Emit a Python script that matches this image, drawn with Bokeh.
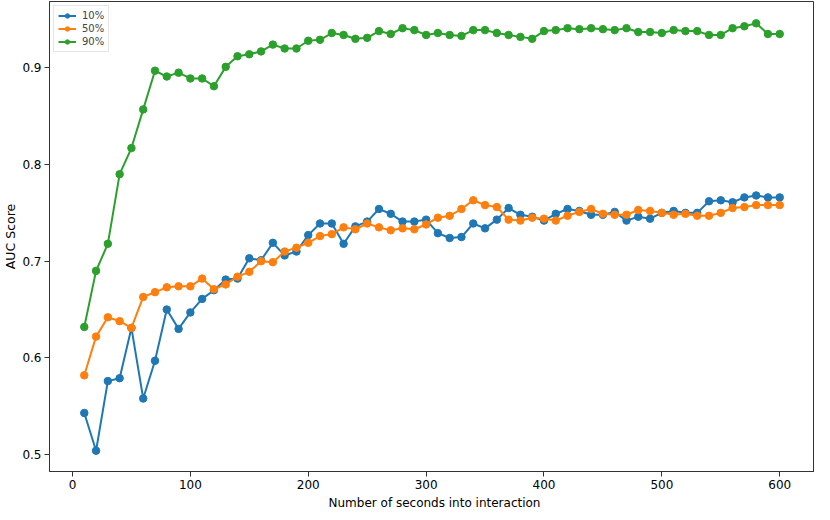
from bokeh.plotting import figure
from bokeh.models import Range1d, FixedTicker, Legend, LegendItem, Div
from bokeh.layouts import column
from bokeh.embed import file_html
from bokeh.resources import INLINE

seconds = [10, 20, 30, 40, 50, 60, 70, 80, 90, 100,
           110, 120, 130, 140, 150, 160, 170, 180, 190, 200,
           210, 220, 230, 240, 250, 260, 270, 280, 290, 300,
           310, 320, 330, 340, 350, 360, 370, 380, 390, 400,
           410, 420, 430, 440, 450, 460, 470, 480, 490, 500,
           510, 520, 530, 540, 550, 560, 570, 580, 590, 600]

auc_10 = [0.543, 0.504, 0.576, 0.579, 0.631, 0.558, 0.597, 0.650, 0.630, 0.647,
          0.661, 0.670, 0.681, 0.682, 0.703, 0.701, 0.719, 0.706, 0.710, 0.727,
          0.739, 0.739, 0.718, 0.736, 0.741, 0.754, 0.749, 0.741, 0.741, 0.743,
          0.729, 0.724, 0.725, 0.739, 0.734, 0.743, 0.755, 0.748, 0.746, 0.742,
          0.749, 0.754, 0.752, 0.748, 0.748, 0.751, 0.742, 0.746, 0.744, 0.750,
          0.752, 0.750, 0.750, 0.762, 0.763, 0.761, 0.766, 0.768, 0.766, 0.766]

auc_50 = [0.582, 0.622, 0.642, 0.638, 0.631, 0.663, 0.668, 0.673, 0.674, 0.674,
          0.682, 0.671, 0.676, 0.684, 0.689, 0.700, 0.699, 0.710, 0.714, 0.719,
          0.726, 0.728, 0.735, 0.733, 0.739, 0.735, 0.732, 0.734, 0.733, 0.738,
          0.745, 0.747, 0.754, 0.763, 0.758, 0.756, 0.743, 0.742, 0.745, 0.744,
          0.742, 0.747, 0.751, 0.754, 0.749, 0.748, 0.748, 0.753, 0.752, 0.750,
          0.748, 0.749, 0.747, 0.747, 0.750, 0.755, 0.756, 0.758, 0.758, 0.758]

auc_90 = [0.632, 0.690, 0.718, 0.790, 0.817, 0.857, 0.897, 0.891, 0.895, 0.889,
          0.889, 0.881, 0.901, 0.912, 0.914, 0.917, 0.924, 0.920, 0.920, 0.928,
          0.929, 0.936, 0.934, 0.930, 0.931, 0.938, 0.935, 0.941, 0.939, 0.934,
          0.936, 0.934, 0.933, 0.939, 0.939, 0.936, 0.934, 0.932, 0.930, 0.938,
          0.939, 0.941, 0.940, 0.941, 0.940, 0.939, 0.941, 0.937, 0.937, 0.936,
          0.939, 0.938, 0.938, 0.934, 0.934, 0.941, 0.943, 0.946, 0.935, 0.935]

series_names = ["10%", "50%", "90%"]
series_colors = ["#1f77b4", "#ff7f0e", "#2ca02c"]
x_ticks = [0, 100, 200, 300, 400, 500, 600]
y_ticks = [0.5, 0.6, 0.7, 0.8, 0.9]
x_title = "Number of seconds into interaction"
y_title = "AUC Score"

FONT = "DejaVu Sans"

p = figure(width=814, height=496, output_backend="svg", toolbar_location=None,
           x_range=Range1d(-19.5, 629.5), y_range=Range1d(0.4825, 0.9686))
p.min_border_left = 39
p.min_border_right = 0
p.min_border_top = 1
p.min_border_bottom = 25
p.margin = (0, 0, 0, 0)
p.background_fill_color = "white"
p.border_fill_color = "white"
p.outline_line_color = "#333333"
p.outline_line_width = 1
p.xgrid.visible = False
p.ygrid.visible = False

for ax in (p.xaxis[0], p.yaxis[0]):
    ax.axis_line_color = "#333333"
    ax.major_tick_line_color = "#333333"
    ax.major_tick_in = 0
    ax.major_tick_out = 5
    ax.minor_tick_line_color = None
    ax.major_label_text_font = FONT
    ax.major_label_text_font_size = "12px"
    ax.major_label_text_color = "black"
    ax.axis_label_text_font = FONT
    ax.axis_label_text_font_size = "12.5px"
    ax.axis_label_text_font_style = "normal"
    ax.axis_label_text_color = "black"
    ax.major_label_standoff = 3

p.yaxis.axis_label_standoff = 1
p.xaxis.ticker = FixedTicker(ticks=x_ticks)
p.yaxis.ticker = FixedTicker(ticks=y_ticks)
p.yaxis.axis_label = y_title

items = []
for name, color, vals in zip(series_names, series_colors, [auc_10, auc_50, auc_90]):
    l = p.line(seconds, vals, line_color=color, line_width=2)
    s = p.scatter(seconds, vals, size=7.5, fill_color=color, line_color=color)
    items.append(LegendItem(label=name, renderers=[l, s]))

legend = Legend(items=items, location="top_left")
legend.label_text_font = FONT
legend.label_text_font_size = "10px"
legend.label_height = 11
legend.glyph_height = 11
legend.glyph_width = 18
legend.spacing = 2
legend.padding = 4
legend.margin = 4
legend.label_standoff = 6
legend.border_line_color = "#cccccc"
legend.border_line_width = 1
legend.background_fill_alpha = 0.8
p.add_layout(legend)

xlabel = Div(text=x_title, width=775, height=14, margin=(0, 0, 0, 47),
             styles={"font-family": FONT, "font-size": "12px", "color": "black",
                     "text-align": "center", "line-height": "14px"})

layout = column(p, xlabel, spacing=0)

open("out.html", "w").write(file_html(layout, INLINE))
